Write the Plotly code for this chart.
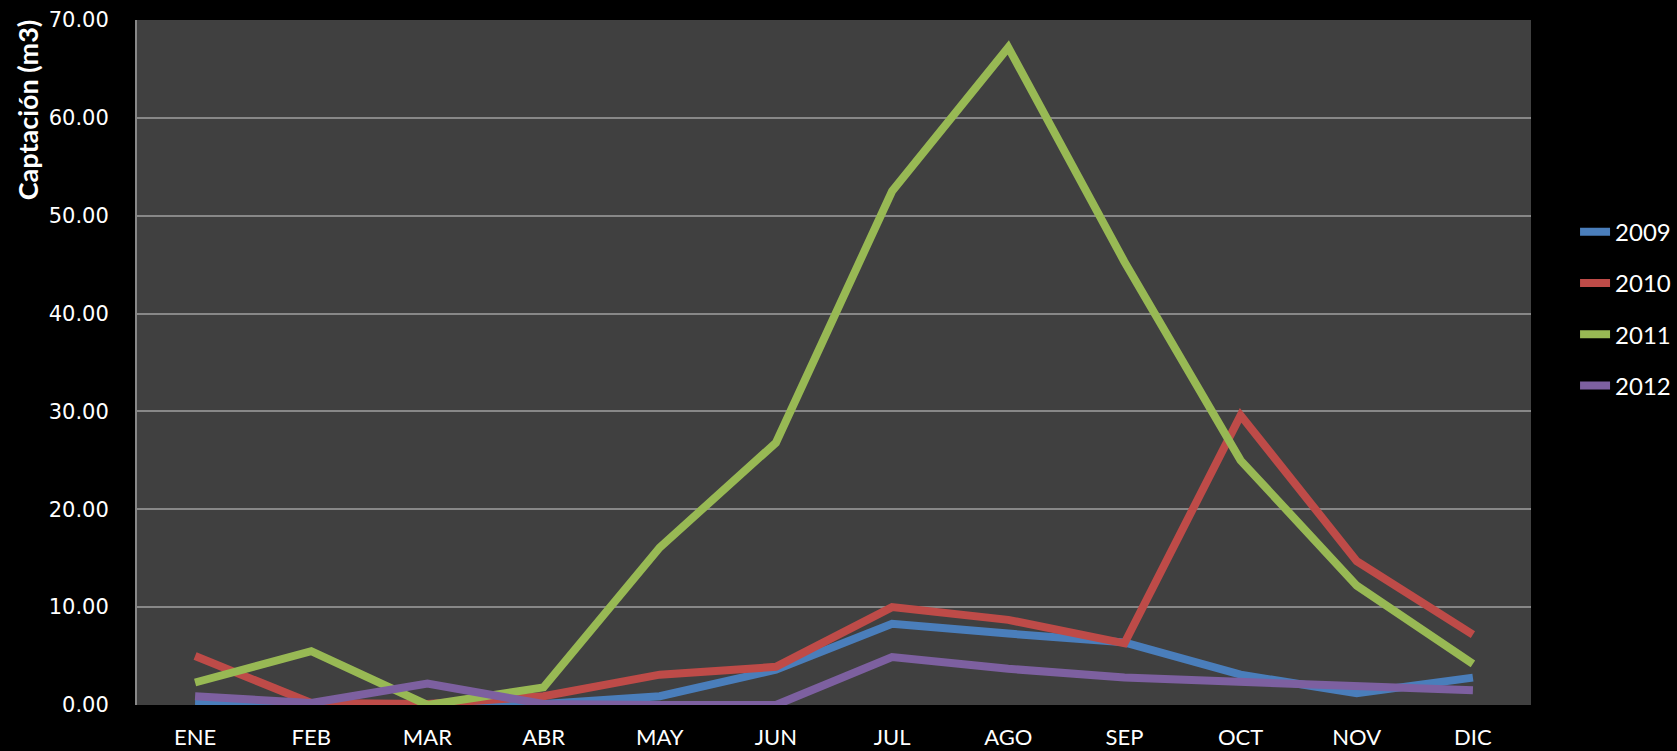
import plotly.graph_objects as go

months = ["ENE", "FEB", "MAR", "ABR", "MAY", "JUN", "JUL", "AGO", "SEP", "OCT", "NOV", "DIC"]
y2009 = [0.2, 0.0, 0.0, 0.1, 0.9, 3.6, 8.3, 7.3, 6.4, 3.1, 1.2, 2.8]
y2010 = [5.0, 0.2, 0.1, 0.9, 3.1, 3.9, 10.0, 8.7, 6.3, 29.6, 14.7, 7.2]
y2011 = [2.3, 5.5, 0.0, 1.8, 16.1, 26.8, 52.5, 67.2, 45.3, 25.0, 12.2, 4.2]
y2012 = [0.9, 0.2, 2.2, 0.1, 0.0, 0.0, 4.9, 3.7, 2.8, 2.3, 2.0, 1.5]
y_ticks = [0, 10, 20, 30, 40, 50, 60, 70]

series = [
    ("2009", y2009, "#4A7EBB"),
    ("2010", y2010, "#BE4B48"),
    ("2011", y2011, "#98B954"),
    ("2012", y2012, "#7D60A0"),
]

fig = go.Figure()
for name, vals, color in series:
    fig.add_trace(go.Scatter(
        x=months, y=vals, name=name, mode="lines",
        line=dict(color=color, width=8),
        legendgroup=name,
    ))

fig.update_layout(
    width=1677, height=751,
    paper_bgcolor="#000000",
    plot_bgcolor="#404040",
    margin=dict(l=137, r=146, t=20, b=46, autoexpand=False),
    showlegend=True,
    legend=dict(
        x=1.0316, xanchor="left", y=0.723, yanchor="top",
        font=dict(family="Lato, sans-serif", size=24, color="#FFFFFF"),
        bgcolor="rgba(0,0,0,0)",
        traceorder="grouped",
        tracegroupgap=17,
        itemwidth=30,
    ),
    xaxis=dict(
        type="category",
        range=[-0.5, 11.5],
        showgrid=False,
        showline=False,
        ticks="",
        automargin=False,
        tickfont=dict(family="Lato, sans-serif", size=22, color="#FFFFFF"),
        ticklabelstandoff=17,
    ),
    yaxis=dict(
        range=[0, 70],
        tickvals=y_ticks,
        tickformat=".2f",
        showgrid=True,
        gridcolor="#888888",
        gridwidth=2,
        zeroline=False,
        showline=True,
        linecolor="#888888",
        linewidth=2,
        ticks="",
        automargin=False,
        tickfont=dict(family="DejaVu Sans, sans-serif", size=21, color="#FFFFFF"),
        ticklabelstandoff=22,
    ),
    annotations=[dict(
        text="<b>Captación (m3)</b>",
        xref="paper", yref="paper",
        x=-0.0785, y=1.004, xanchor="center", yanchor="top",
        textangle=-90, showarrow=False,
        font=dict(family="Lato, sans-serif", size=27, color="#FFFFFF"),
    )],
)

fig.write_html(
    "out.html",
    config={"displayModeBar": False},
    post_script="document.body.style.margin='0';document.body.style.background='#000';",
)
